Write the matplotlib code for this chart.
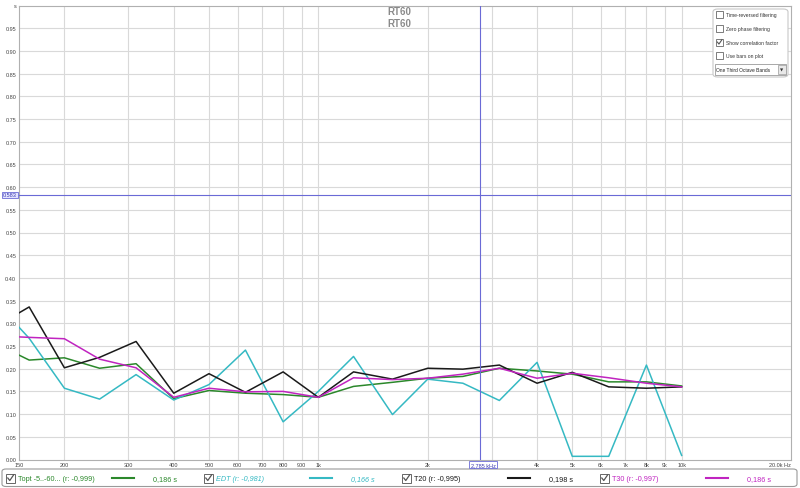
import matplotlib
matplotlib.use("Agg")
import matplotlib.pyplot as plt
from matplotlib.patches import Rectangle, FancyBboxPatch
from matplotlib.lines import Line2D

plt.rcParams['font.family'] = ['Liberation Sans', 'DejaVu Sans']

# ---- data (one-third octave bands, seconds) ----
freqs = [125, 160, 200, 250, 315, 400, 500, 630, 800, 1000, 1250, 1600,
         2000, 2500, 3150, 4000, 5000, 6300, 8000, 10000]
topt = [0.261, 0.219, 0.224, 0.201, 0.211, 0.134, 0.152, 0.146, 0.143, 0.137,
        0.161, 0.170, 0.179, 0.183, 0.201, 0.195, 0.188, 0.171, 0.171, 0.162]
edt = [0.360, 0.267, 0.157, 0.133, 0.187, 0.131, 0.165, 0.241, 0.083, 0.150,
       0.227, 0.099, 0.177, 0.168, 0.130, 0.214, 0.007, 0.007, 0.208, 0.009]
t20 = [0.286, 0.336, 0.202, 0.225, 0.260, 0.146, 0.189, 0.148, 0.193, 0.137,
       0.193, 0.177, 0.201, 0.199, 0.208, 0.168, 0.192, 0.160, 0.157, 0.160]
t30 = [0.273, 0.269, 0.266, 0.221, 0.202, 0.137, 0.157, 0.149, 0.150, 0.137,
       0.180, 0.176, 0.179, 0.188, 0.201, 0.179, 0.190, 0.180, 0.168, 0.160]

series_names = ["Topt -5..-60... (r: -0,999)", "EDT (r: -0,981)",
                "T20 (r: -0,995)", "T30 (r: -0,997)"]
series_values = ["0,186 s", "0,166 s", "0,198 s", "0,186 s"]
series_colors = ["#2b882b", "#35b9c3", "#1a1a1a", "#c024c0"]

ytick_vals = [i * 0.05 for i in range(20)]
ytick_labels = ["%.2f" % v for v in ytick_vals]
xtick_vals = [150, 200, 300, 400, 500, 600, 700, 800, 900, 1000, 2000, 3000,
              4000, 5000, 6000, 7000, 8000, 9000, 10000, 20000]
xtick_labels = ["150", "200", "300", "400", "500", "600", "700", "800", "900",
                "1k", "2k", "3k", "4k", "5k", "6k", "7k", "8k", "9k", "10k",
                "20.0k Hz"]
title_text = "RT60"
cursor_freq = 2785
cursor_val = 0.583
panel_items = ["Time-reversed filtering", "Zero phase filtering",
               "Show correlation factor", "Use bars on plot"]
panel_checked = [False, False, True, False]
dropdown_text = "One Third Octave Bands"

W, H = 800, 489
fig = plt.figure(figsize=(W / 100, H / 100), dpi=100)
fig.patch.set_facecolor("white")


def fx(x):
    return x / W


def fy(y):
    return 1 - y / H


L, R, T, B = 19, 791, 6.5, 460.5
ax = fig.add_axes([fx(L), fy(B), (R - L) / W, (B - T) / H])
ax.set_xscale("log")
ax.set_xlim(150, 20000)
ax.set_ylim(0, 1.0)

grid_c = "#d9d9d9"
for xv in xtick_vals[1:-1]:
    ax.axvline(xv, color=grid_c, lw=0.8, zorder=0)
for yv in ytick_vals[1:]:
    ax.axhline(yv, color=grid_c, lw=0.8, zorder=0)

ax.set_yticks(ytick_vals + [1.0])
ax.set_yticklabels(ytick_labels + ["s"], fontsize=4, color="#444444")
ax.set_xticks(xtick_vals)
ax.set_xticklabels(xtick_labels, fontsize=4, color="#444444")
ax.xaxis.set_minor_locator(matplotlib.ticker.NullLocator())
ax.tick_params(axis="both", length=0, pad=2)
labs = ax.get_xticklabels()
labs[-1].set_horizontalalignment("right")
for sp in ax.spines.values():
    sp.set_color("#b0b0b0")
    sp.set_linewidth(0.8)

for data, col in zip([topt, edt, t20, t30], series_colors):
    ax.plot(freqs, data, color=col, lw=1.1, zorder=3, clip_on=True)

# cursor
cur_c = "#6a6ad6"
ax.axvline(cursor_freq, color=cur_c, lw=0.8, zorder=4)
ax.axhline(cursor_val, color=cur_c, lw=0.8, zorder=4)

# title
fig.text(fx(399), fy(12), title_text, ha="center", va="center",
         fontsize=7, fontweight="bold", color="#8a8a8a")
fig.text(fx(399), fy(24), title_text, ha="center", va="center",
         fontsize=7, fontweight="bold", color="#8a8a8a")

# cursor labels
fig.text(fx(10), fy(196), "0.583", ha="center", va="center", fontsize=4,
         color="#3a3ab0",
         bbox=dict(boxstyle="square,pad=0.15", fc="#e4e4ff", ec=cur_c, lw=0.6))
fig.text(fx(483), fy(465.5), "2,785 kHz", ha="center", va="center",
         fontsize=4, color="#3a3ab0", zorder=10,
         bbox=dict(boxstyle="square,pad=0.25", fc="white", ec=cur_c, lw=0.6))


def checkbox(x, y, size, checked, lw=0.6):
    fig.add_artist(Rectangle((fx(x), fy(y + size)), size / W, size / H,
                             transform=fig.transFigure, fc="white",
                             ec="#666666", lw=lw))
    if checked:
        fig.add_artist(Line2D([fx(x + size * 0.2), fx(x + size * 0.42),
                               fx(x + size * 0.85)],
                              [fy(y + size * 0.5), fy(y + size * 0.78),
                               fy(y + size * 0.15)],
                              transform=fig.transFigure, color="#555555",
                              lw=lw + 0.2))


# control panel
fig.add_artist(FancyBboxPatch((fx(713), fy(78)), 75 / W, 68 / H,
                              boxstyle="round,pad=0,rounding_size=0.006",
                              transform=fig.transFigure, fc="white",
                              ec="#c8c8c8", lw=0.8))
for i, (txt, chk) in enumerate(zip(panel_items, panel_checked)):
    yy = 15.5 + 13.8 * i
    checkbox(716, yy - 3.5, 7, chk)
    fig.text(fx(726), fy(yy), txt, ha="left", va="center", fontsize=3.6,
             color="#333333")
fig.add_artist(Rectangle((fx(715), fy(76)), 71 / W, 11 / H,
                         transform=fig.transFigure, fc="white",
                         ec="#9a9a9a", lw=0.6))
fig.add_artist(Rectangle((fx(778), fy(75)), 7.5 / W, 9 / H,
                         transform=fig.transFigure, fc="#e8e8e8",
                         ec="#9a9a9a", lw=0.5))
fig.text(fx(781.8), fy(70.3), "▼", ha="center", va="center", fontsize=3,
         color="#333333", family=["DejaVu Sans"])
fig.text(fx(716.5), fy(70.5), dropdown_text, ha="left", va="center",
         fontsize=3.5, color="#222222")

# bottom legend bar (one rounded box)
fig.add_artist(FancyBboxPatch((fx(2), fy(487.5)), 795 / W, 17.5 / H,
                              boxstyle="round,pad=0,rounding_size=0.005",
                              transform=fig.transFigure, fc="white",
                              ec="#9a9a9a", lw=0.8))
group_x = [2, 200, 398, 596]
for i, (name, val, col) in enumerate(zip(series_names, series_values,
                                         series_colors)):
    gx = group_x[i]
    checkbox(gx + 4, 474.5, 9, True, lw=0.7)
    style = "italic" if i == 1 else "normal"
    fig.text(fx(gx + 16), fy(479.2), name, ha="left", va="center",
             fontsize=5.2, color=col, style=style)
    fig.add_artist(Line2D([fx(gx + 110), fx(gx + 132)], [fy(479), fy(479)],
                          transform=fig.transFigure, color=col, lw=1.5))
    fig.text(fx(gx + 163), fy(479.2), val, ha="center", va="center",
             fontsize=5.2, color=col, style=style)

fig.savefig("out.png", dpi=100, facecolor="white")
